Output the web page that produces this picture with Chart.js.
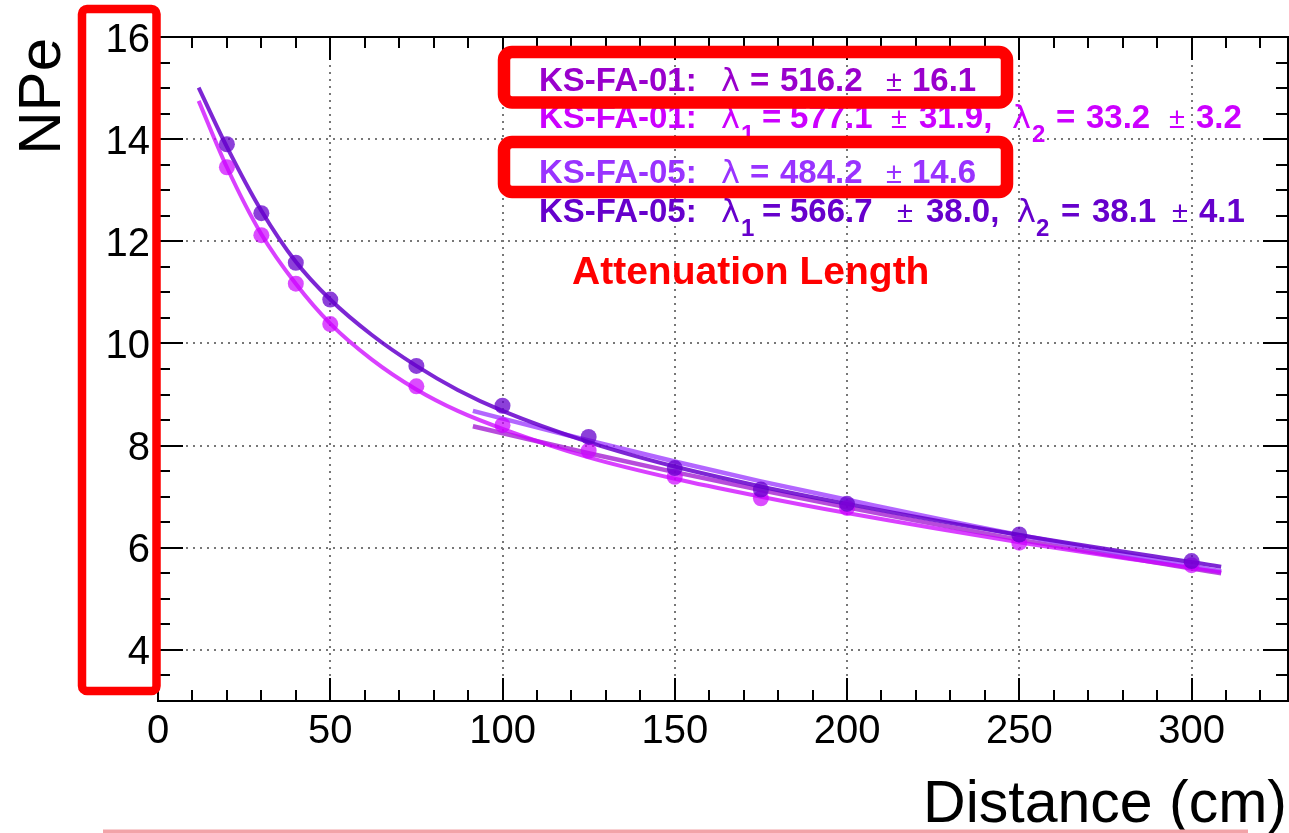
<!DOCTYPE html>
<html>
<head>
<meta charset="utf-8">
<script src="https://cdn.jsdelivr.net/npm/chart.js@4.4.0/dist/chart.umd.min.js"></script>
<style>
body{margin:0;background:#fff;}
#wrap{width:1289px;height:833px;}
</style>
</head>
<body>
<div id="wrap"><canvas id="myChart" width="1289" height="833"></canvas></div>
<script>
// measured NPe vs distance (cm)
const distances = [20, 30, 40, 50, 75, 100, 125, 150, 175, 200, 250, 300];
const npeFA01 = [13.45, 12.12, 11.17, 10.38, 9.16, 8.40, 7.90, 7.39, 6.97, 6.78, 6.10, 5.66];
const npeFA05 = [13.90, 12.55, 11.58, 10.86, 9.56, 8.78, 8.17, 7.56, 7.14, 6.86, 6.26, 5.74];

// double exponential fits, sampled along the curve
const dblFitX = [11.8, 20, 30, 40, 50, 62, 75, 87, 100, 125, 150, 175, 200, 250, 308.6];
const dblFitFA01 = [14.75, 13.45, 12.14, 11.17, 10.39, 9.69, 9.10, 8.68, 8.33, 7.77, 7.35, 7.00, 6.68, 6.11, 5.52];
const dblFitFA05 = [15.01, 13.85, 12.60, 11.60, 10.86, 10.17, 9.56, 9.09, 8.68, 8.07, 7.59, 7.20, 6.86, 6.25, 5.63];

// single exponential fits (far region)
const sglFitX = [91.4, 125, 150, 175, 200, 250, 308.6];
const sglFitFA01 = [8.38, 7.85, 7.48, 7.13, 6.79, 6.16, 5.50];
const sglFitFA05 = [8.68, 8.10, 7.69, 7.30, 6.94, 6.25, 5.54];

const xTicks = [0, 50, 100, 150, 200, 250, 300];
const yTicks = [4, 6, 8, 10, 12, 14, 16];

function pts(xs, ys){ return xs.map((x,i)=>({x:x, y:ys[i]})) }

const BOLD = 'bold 33px "Liberation Sans", Arial, sans-serif';
const SUB = 'bold 24px "Liberation Sans", Arial, sans-serif';
const SYM = '32px "DejaVu Sans", sans-serif';
const PM = '29px "Liberation Sans", Arial, sans-serif';

// fit result labels: [text, font, x, baseline offset]
const fitLabels = [
  {color:'#9900cc', y:91, parts:[
    ['KS-FA-01:',BOLD,539,0],['λ',SYM,721,0],['=',BOLD,750,0],['516.2',BOLD,780,0],['±',PM,886,0],['16.1',BOLD,912,0]]},
  {color:'#cc00ff', y:128, parts:[
    ['KS-FA-01:',BOLD,539,0],['λ',SYM,721,0],['1',SUB,741,14],['=',BOLD,762,0],['577.1',BOLD,790,0],['±',PM,891,0],['31.9,',BOLD,919,0],
    ['λ',SYM,1012,0],['2',SUB,1032,14],['=',BOLD,1056,0],['33.2',BOLD,1086,0],['±',PM,1169,0],['3.2',BOLD,1196,0]]},
  {color:'#9933ff', y:183, parts:[
    ['KS-FA-05:',BOLD,539,0],['λ',SYM,721,0],['=',BOLD,750,0],['484.2',BOLD,780,0],['±',PM,886,0],['14.6',BOLD,912,0]]},
  {color:'#6600cc', y:222, parts:[
    ['KS-FA-05:',BOLD,539,0],['λ',SYM,721,0],['1',SUB,741,14],['=',BOLD,762,0],['566.7',BOLD,790,0],['±',PM,897,0],['38.0,',BOLD,926,0],
    ['λ',SYM,1017,0],['2',SUB,1036,14],['=',BOLD,1061,0],['38.1',BOLD,1092,0],['±',PM,1172,0],['4.1',BOLD,1199,0]]}
];

const rootFrame = {
  id:'rootFrame',
  beforeDatasetsDraw(chart){
    const ctx = chart.ctx, a = chart.chartArea;
    const xs = chart.scales.x, ys = chart.scales.y;
    ctx.save();
    ctx.strokeStyle = '#777';
    ctx.lineWidth = 2;
    ctx.setLineDash([2,5]);
    xTicks.forEach(v=>{
      const px = Math.round(xs.getPixelForValue(v));
      if (px <= a.left+2 || px >= a.right-2) return;
      ctx.beginPath(); ctx.moveTo(px, a.top); ctx.lineTo(px, a.bottom); ctx.stroke();
    });
    yTicks.forEach(v=>{
      const py = Math.round(ys.getPixelForValue(v));
      if (py <= a.top+2 || py >= a.bottom-2) return;
      ctx.beginPath(); ctx.moveTo(a.left, py); ctx.lineTo(a.right, py); ctx.stroke();
    });
    ctx.restore();
  },
  afterDraw(chart){
    const ctx = chart.ctx, a = chart.chartArea;
    const xs = chart.scales.x, ys = chart.scales.y;
    ctx.save();
    ctx.setLineDash([]);
    ctx.strokeStyle = '#000';
    ctx.lineWidth = 2;
    ctx.strokeRect(a.left, a.top, a.right-a.left, a.bottom-a.top);

    // ticks on all four sides
    ctx.beginPath();
    for (let v = 0; v <= xs.max; v += 10) {
      const px = Math.round(xs.getPixelForValue(v));
      const len = v % 50 === 0 ? 23 : 11;
      ctx.moveTo(px, a.bottom); ctx.lineTo(px, a.bottom-len);
      ctx.moveTo(px, a.top); ctx.lineTo(px, a.top+len);
    }
    for (let v = ys.min; v <= ys.max; v += 0.5) {
      const py = Math.round(ys.getPixelForValue(v));
      const len = v % 2 === 0 ? 25 : 12;
      ctx.moveTo(a.left, py); ctx.lineTo(a.left+len, py);
      ctx.moveTo(a.right, py); ctx.lineTo(a.right-len, py);
    }
    ctx.stroke();

    // tick labels
    ctx.fillStyle = '#000';
    ctx.font = '40px "Liberation Sans", Arial, sans-serif';
    ctx.textAlign = 'center';
    ctx.textBaseline = 'alphabetic';
    xTicks.forEach(v=>ctx.fillText(String(v), xs.getPixelForValue(v), 743));
    ctx.textAlign = 'right';
    yTicks.forEach(v=>ctx.fillText(String(v), 150, ys.getPixelForValue(v)+14.5));

    // axis titles
    ctx.font = '59px "Liberation Sans", Arial, sans-serif';
    ctx.fillText('Distance (cm)', 1287, 822);
    ctx.save();
    ctx.translate(60, 38);
    ctx.rotate(-Math.PI/2);
    ctx.font = '60px "Liberation Sans", Arial, sans-serif';
    ctx.textAlign = 'right';
    ctx.fillText('NPe', 0, 0);
    ctx.restore();

    // fit results
    ctx.textAlign = 'left';
    fitLabels.forEach(line=>{
      ctx.fillStyle = line.color;
      line.parts.forEach(p=>{
        ctx.font = p[1];
        ctx.fillText(p[0], p[2], line.y + p[3]);
      });
    });
    ctx.fillStyle = '#ff0000';
    ctx.font = 'bold 39px "Liberation Sans", Arial, sans-serif';
    ctx.fillText('Attenuation Length', 572, 284);

    // red highlight boxes
    ctx.strokeStyle = '#ff0000';
    ctx.lineWidth = 8.5;
    ctx.beginPath(); ctx.roundRect(82, 9, 74.5, 682, 5); ctx.stroke();
    ctx.lineWidth = 12.5;
    ctx.beginPath(); ctx.roundRect(504, 52, 503, 50.5, 8); ctx.stroke();
    ctx.beginPath(); ctx.roundRect(504, 142, 503, 50, 8); ctx.stroke();

    // pink underline at bottom
    ctx.fillStyle = '#f2a3a8';
    ctx.fillRect(103, 829.5, 1145, 4);
    ctx.restore();
  }
};

const ctx = document.getElementById('myChart').getContext('2d');
const chart = new Chart(ctx, {
  type: 'line',
  data: {
    datasets: [
      {label:'KS-FA-05', data: pts(distances, npeFA05), showLine:false, pointRadius:8, pointHoverRadius:8,
        backgroundColor:'rgba(102,0,204,0.75)', borderWidth:0, pointBorderWidth:0, order:0},
      {label:'KS-FA-01', data: pts(distances, npeFA01), showLine:false, pointRadius:8, pointHoverRadius:8,
        backgroundColor:'rgba(204,0,255,0.7)', borderWidth:0, pointBorderWidth:0, order:1},
      {label:'FA-05 double', data: pts(dblFitX, dblFitFA05), borderColor:'rgba(102,0,204,0.85)', borderWidth:4,
        pointRadius:0, cubicInterpolationMode:'monotone', order:2},
      {label:'FA-01 double', data: pts(dblFitX, dblFitFA01), borderColor:'rgba(204,0,255,0.75)', borderWidth:4,
        pointRadius:0, cubicInterpolationMode:'monotone', order:3},
      {label:'FA-05 single', data: pts(sglFitX, sglFitFA05), borderColor:'rgba(153,51,255,0.75)', borderWidth:4.5,
        pointRadius:0, cubicInterpolationMode:'monotone', order:4},
      {label:'FA-01 single', data: pts(sglFitX, sglFitFA01), borderColor:'rgba(153,0,204,0.7)', borderWidth:4.5,
        pointRadius:0, cubicInterpolationMode:'monotone', order:5}
    ]
  },
  options: {
    responsive:false,
    devicePixelRatio:1,
    animation:false,
    layout:{autoPadding:false, padding:{left:158, top:37, right:1, bottom:132}},
    scales:{
      x:{type:'linear', min:0, max:328, display:false},
      y:{type:'linear', min:3, max:16, display:false}
    },
    plugins:{legend:{display:false}, tooltip:{enabled:false}}
  },
  plugins:[rootFrame]
});
</script>
</body>
</html>
